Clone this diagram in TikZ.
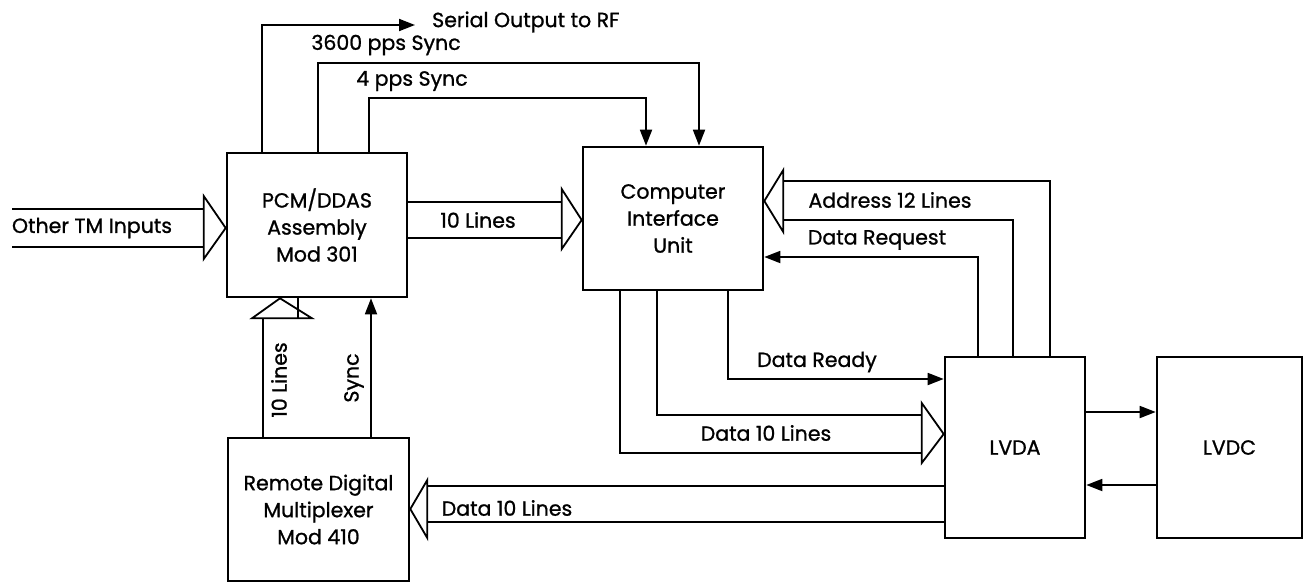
\documentclass[tikz,border=0pt]{standalone}
\usepackage{fontspec}
\setmainfont{Poppins}[FakeBold=1]
\usetikzlibrary{arrows.meta,calc}
\begin{document}
\begin{tikzpicture}[x=1pt,y=-1pt,
  box/.style={draw,line width=2.6pt,inner sep=0pt,align=center,font=\fontsize{20.5}{27}\selectfont},
  lab/.style={inner sep=0pt,font=\fontsize{20.5}{22}\selectfont},
  sig/.style={line width=1.8pt,line join=miter},
  arr/.style={sig,-{Triangle[length=16pt,width=12pt]}}]
\useasboundingbox[fill=white] (0,0) rectangle (1309,584);
% blocks
\node[box,minimum width=180pt,minimum height=144pt] (pcm) at (317,225) {PCM/DDAS\\Assembly\\Mod 301};
\node[box,minimum width=180pt,minimum height=143pt] (ciu) at (673,218.5) {Computer\\Interface\\Unit};
\node[box,minimum width=140pt,minimum height=181pt] (lvda) at (1015,447.5) {LVDA};
\node[box,minimum width=145pt,minimum height=181pt] (lvdc) at (1229.5,447.5) {LVDC};
\node[box,minimum width=181pt,minimum height=143pt] (rdm) at (318.5,509.5) {Remote Digital\\Multiplexer\\Mod 410};
% labels
\node[lab,anchor=west] (rf) at (432,22) {Serial Output to RF};
\node[lab] (l3600) at (386,45) {3600 pps Sync};
\node[lab] (l4) at (412,81) {4 pps Sync};
\node[lab] (ltm) at (92,228) {Other TM Inputs};
\node[lab] (l10a) at (478,220) {10 Lines};
\node[lab] (ladr) at (890,200) {Address 12 Lines};
\node[lab] (lreq) at (877,240) {Data Request};
\node[lab] (lrdy) at (817,362) {Data Ready};
\node[lab] (ld1) at (766,433) {Data 10 Lines};
\node[lab] (ld2) at (507,508) {Data 10 Lines};
\node[lab,rotate=90] (l10b) at (279,380) {10 Lines};
\node[lab,rotate=90] (lsync) at (354,378) {Sync};
% coordinates
\coordinate (sA) at (262,25);
\coordinate (rfend) at (415,25);
\coordinate (a36) at (318,63);
\coordinate (b36) at (699,63);
\coordinate (a4) at (369,98);
\coordinate (b4) at (646,98);
\coordinate (syncx) at (371,0);
\coordinate (reqa) at (978,257);
\coordinate (rdya) at (728,379);
\coordinate (ll1) at (1085,412);
\coordinate (ll2) at (1085,485);
% single-line connectors
\draw[arr] (sA |- pcm.north) -- (sA) -- (rfend);
\draw[arr] (a36 |- pcm.north) -- (a36) -- (b36) -- (b36 |- ciu.north);
\draw[arr] (a4 |- pcm.north) -- (a4) -- (b4) -- (b4 |- ciu.north);
\draw[arr] (syncx |- rdm.north) -- (syncx |- pcm.south);
\draw[arr] (reqa |- lvda.north) -- (reqa) -- (reqa -| ciu.east);
\draw[arr] (rdya |- ciu.south) -- (rdya) -- (rdya -| lvda.west);
\draw[arr] (ll1 -| lvda.east) -- (ll1 -| lvdc.west);
\draw[arr] (ll2 -| lvdc.west) -- (ll2 -| lvda.east);
% hollow bus arrows
% Other TM Inputs -> PCM
\coordinate (t1) at (pcm.west |- 0,228);
\draw[sig] (12,209) -- ($(t1)+(-22,-19)$) ($(12,247)$) -- ($(t1)+(-22,19)$);
\draw[sig] ($(t1)+(-22,-32)$) -- (t1) -- ($(t1)+(-22,31)$) -- cycle;
% PCM -> CIU 10 Lines
\coordinate (t2) at (ciu.west |- 0,220);
\draw[sig] (pcm.east |- 0,202) -- ($(t2)+(-20,-18)$) (pcm.east |- 0,238) -- ($(t2)+(-20,18)$);
\draw[sig] ($(t2)+(-20,-31)$) -- (t2) -- ($(t2)+(-20,29)$) -- cycle;
% LVDA -> CIU Address 12 Lines
\coordinate (t3) at (ciu.east |- 0,201);
\coordinate (adr1) at (1050,181);
\coordinate (adr2) at (1013,220);
\draw[sig] (adr1 |- lvda.north) -- (adr1) -- ($(t3)+(19,-20)$);
\draw[sig] (adr2 |- lvda.north) -- (adr2) -- ($(t3)+(19,19)$);
\draw[sig] ($(t3)+(19,-31)$) -- (t3) -- ($(t3)+(19,31)$) -- cycle;
% CIU -> LVDA Data 10 Lines
\coordinate (t4) at (lvda.west |- 0,434);
\coordinate (d1) at (657,415);
\coordinate (d2) at (620,453);
\draw[sig] (d1 |- ciu.south) -- (d1) -- ($(t4)+(-22,-19)$);
\draw[sig] (d2 |- ciu.south) -- (d2) -- ($(t4)+(-22,19)$);
\draw[sig] ($(t4)+(-22,-31)$) -- (t4) -- ($(t4)+(-22,29)$) -- cycle;
% LVDA -> RDM Data 10 Lines
\coordinate (t5) at (rdm.east |- 0,509);
\draw[sig] (lvda.west |- 0,486) -- ($(t5)+(17,-23)$) (lvda.west |- 0,522) -- ($(t5)+(17,13)$);
\draw[sig] ($(t5)+(17,-29)$) -- (t5) -- ($(t5)+(17,29)$) -- cycle;
% RDM -> PCM 10 Lines (vertical)
\coordinate (t6) at (pcm.south -| 280,0);
\draw[sig] (263,0 |- rdm.north) -- ($(t6)+(-17,20)$);
\draw[sig] ($(t6)+(18,0)$ |- rdm.north) -- ($(t6)+(18,20)$);
\draw[sig] ($(t6)+(-28,20)$) -- (t6) -- ($(t6)+(32,20)$) -- cycle;
\end{tikzpicture}
\end{document}
